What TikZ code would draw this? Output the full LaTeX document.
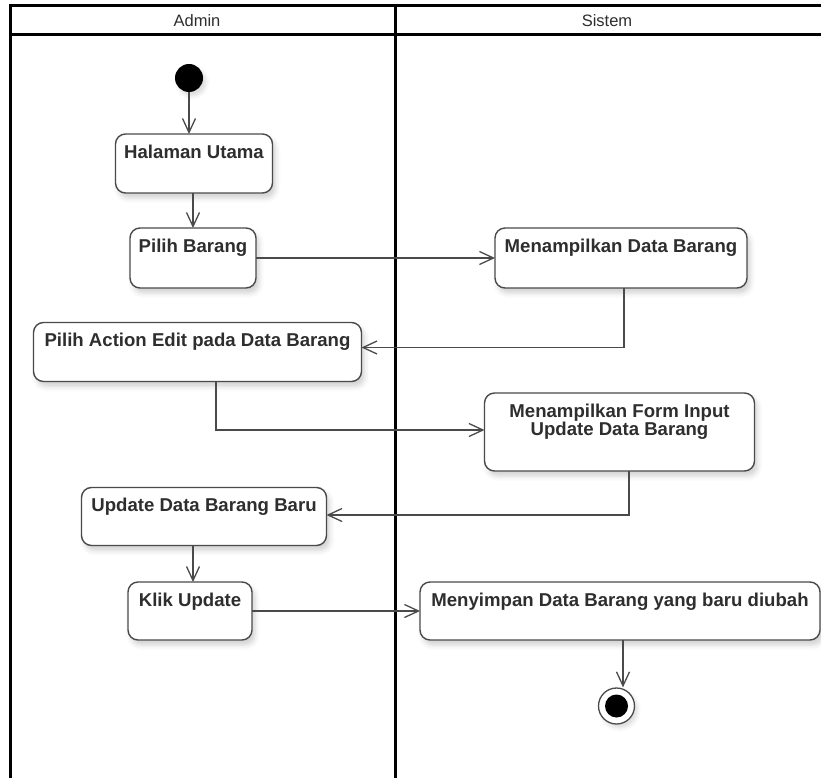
\documentclass[tikz,border=0pt]{standalone}
\usepackage{fontspec}
\setmainfont{Liberation Sans}
\usetikzlibrary{arrows.meta,shadows.blur}
\definecolor{linegray}{HTML}{4A4A4A}
\definecolor{textgray}{HTML}{2E2E2E}
\tikzset{
  lane/.style={line width=3pt, draw=black},
  lanehead/.style={font=\fontsize{16.5}{18}\selectfont, text=textgray},
  actbox/.style={draw=linegray, line width=1.4pt, rounded corners=10pt, fill=white,
    inner sep=0pt, outer sep=0pt,
    blur shadow={shadow xshift=3pt, shadow yshift=-5pt, shadow blur radius=5pt, shadow opacity=18}},
  acttext/.style={anchor=north, inner xsep=0pt, inner ysep=11pt, outer sep=0pt,
    font=\fontsize{18.6}{18}\selectfont\bfseries, text=textgray, align=center},
  flow/.style={draw=linegray, line width=1.3pt,
    -{Straight Barb[length=14pt,width=13pt,line width=1.3pt]}},
}
\begin{document}
\begin{tikzpicture}[x=1pt,y=-1pt]
\useasboundingbox (0,0) rectangle (821,778);

% swimlane frame
\draw[lane] (10.5,790) -- (10.5,5.5) -- (830,5.5);
\draw[lane] (10.5,34.5) -- (830,34.5);
\draw[lane] (395,5.5) -- (395,790);
\node[lanehead] (adminHead) at (197,21) {Admin};
\node[lanehead] (sistemHead) at (607,21) {Sistem};

% initial and final states
\node[circle, fill=black, minimum size=28pt, inner sep=0pt,
  blur shadow={shadow xshift=3pt, shadow yshift=-4pt, shadow blur radius=4pt, shadow opacity=14}]
  (start) at (189,78) {};
\node[circle, draw=linegray, line width=1.3pt, fill=white, minimum size=36pt, inner sep=0pt,
  blur shadow={shadow xshift=3pt, shadow yshift=-4pt, shadow blur radius=4pt, shadow opacity=14},
  path picture={\fill[black] (path picture bounding box.center) circle (11.5pt);}]
  (end) at (616.5,706) {};

% activities
\node[actbox, minimum width=157pt, minimum height=59pt,
  label={[acttext]north:Halaman Utama}] (h) at (194,163.5) {};
\node[actbox, minimum width=126pt, minimum height=60pt,
  label={[acttext]north:Pilih Barang}] (pb) at (193,258) {};
\node[actbox, minimum width=252pt, minimum height=60pt,
  label={[acttext]north:Menampilkan Data Barang}] (md) at (621,258) {};
\node[actbox, minimum width=328pt, minimum height=59pt,
  label={[acttext]north:Pilih Action Edit pada Data Barang}] (pa) at (197.5,352) {};
\node[actbox, minimum width=270pt, minimum height=78pt,
  label={[acttext]north:{Menampilkan Form Input\\Update Data Barang}}] (mf) at (619.5,432) {};
\node[actbox, minimum width=245pt, minimum height=58pt,
  label={[acttext]north:Update Data Barang Baru}] (ud) at (204,516.5) {};
\node[actbox, minimum width=124pt, minimum height=58pt,
  label={[acttext]north:Klik Update}] (ku) at (190,611) {};
\node[actbox, minimum width=400pt, minimum height=58pt,
  label={[acttext]north:Menyimpan Data Barang yang baru diubah}] (ms) at (620,611) {};

% entry points of the offset flows
\coordinate (hOut) at ([xshift=-1pt]h.south);
\coordinate (kuIn) at ([xshift=3pt]ku.north);
\coordinate (msOut) at ([xshift=3pt]ms.south);

% control flows
\draw[flow] (start.south) -- (start.south |- h.north);
\draw[flow] (hOut) -- (hOut |- pb.north);
\draw[flow] (pb.east) -- (pb.east -| md.west);
\draw[flow] ([xshift=3pt]md.south) |- ([yshift=4.5pt]pa.east);
\draw[flow] ([xshift=18.5pt]pa.south) |- ([yshift=2pt]mf.west);
\draw[flow] ([xshift=9.5pt]mf.south) |- ([yshift=1.5pt]ud.east);
\draw[flow] (kuIn |- ud.south) -- (kuIn);
\draw[flow] (ku.east) -- (ku.east -| ms.west);
\draw[flow] (msOut) -- (msOut |- end.north);
\end{tikzpicture}
\end{document}
